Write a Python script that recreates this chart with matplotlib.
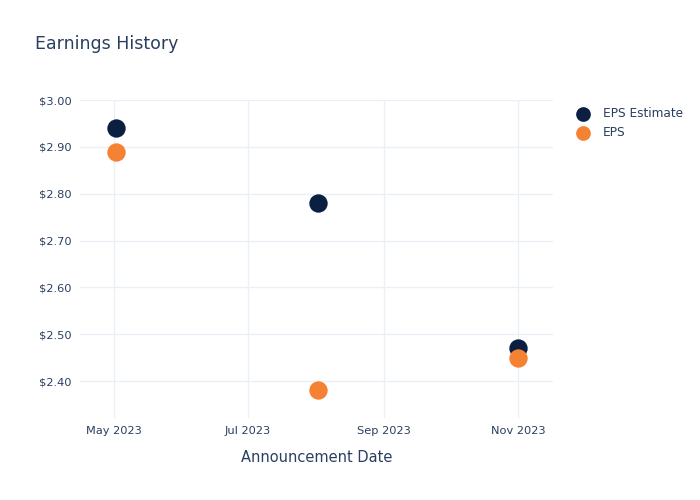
import datetime as dt

import matplotlib.pyplot as plt
import matplotlib.dates as mdates
from matplotlib.ticker import FuncFormatter

dates = [dt.date(2023, 5, 2), dt.date(2023, 8, 2), dt.date(2023, 11, 1)]
eps_estimate = [2.94, 2.78, 2.47]
eps_actual = [2.89, 2.38, 2.45]

TEXT = "#2a3f5f"
GRID = "#ebf0f8"
NAVY = "#0b1f42"
ORANGE = "#f58232"

fig = plt.figure(figsize=(7, 5), dpi=100)
ax = fig.add_axes([80 / 700, 82 / 500, 473 / 700, 318 / 500])

ax.scatter(dates, eps_estimate, s=175, color=NAVY, label="EPS Estimate", zorder=3, linewidths=0)
ax.scatter(dates, eps_actual, s=175, color=ORANGE, label="EPS", zorder=4, linewidths=0)

ax.set_xlim(dt.datetime(2023, 4, 15, 12), dt.datetime(2023, 11, 17))
ax.set_ylim(2.321, 3.0)
ax.set_xticks([dt.date(2023, 5, 1), dt.date(2023, 7, 1), dt.date(2023, 9, 1), dt.date(2023, 11, 1)])
ax.xaxis.set_major_formatter(mdates.DateFormatter("%b %Y"))
ax.set_yticks([2.4, 2.5, 2.6, 2.7, 2.8, 2.9, 3.0])
ax.yaxis.set_major_formatter(FuncFormatter(lambda v, p: f"${v:.2f}"))

for s in ax.spines.values():
    s.set_visible(False)
ax.grid(True, color=GRID, linewidth=1)
ax.set_axisbelow(True)
ax.tick_params(length=0, labelsize=8.2, colors=TEXT, pad=6)

ax.set_xlabel("Announcement Date", fontsize=10.5, color=TEXT, labelpad=10)
fig.text(35 / 700, 1 - 44 / 500, "Earnings History", fontsize=12.5, color=TEXT, va="center", ha="left")

ax.legend(loc="upper left", bbox_to_anchor=(566 / 700, 1 - 102 / 500), bbox_transform=fig.transFigure,
          frameon=False, fontsize=8.75, labelcolor=TEXT, handletextpad=0.66, borderaxespad=0,
          labelspacing=0.5, markerscale=0.8)

fig.savefig("out.png", dpi=100)
